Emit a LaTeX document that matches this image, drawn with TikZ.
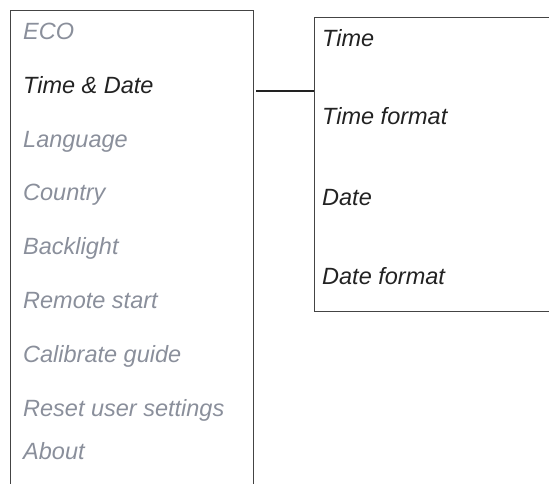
\documentclass[tikz,border=0pt]{standalone}
\usepackage{fontspec}
\setmainfont{Liberation Sans}
\definecolor{boxline}{HTML}{444444}
\definecolor{greytxt}{HTML}{8A8F9B}
\definecolor{darktxt}{HTML}{222222}
\tikzset{
  panel/.style={draw=boxline, line width=1.4pt, rectangle, inner sep=0pt, anchor=north west},
  item/.style={anchor=base west, inner sep=0pt, font=\fontsize{23.5}{27}\selectfont\itshape},
  dim/.style={item, text=greytxt},
  sel/.style={item, text=darktxt},
  link/.style={draw=darktxt, line width=1.1pt}
}
\begin{document}
\begin{tikzpicture}[x=1pt,y=-1pt]
\useasboundingbox (0,0) rectangle (549,483);
\clip (0,0) rectangle (549,483);
\node[panel, minimum width=243pt, minimum height=520pt] (menu) at (9.5,9.5) {};
\node[panel, minimum width=260pt, minimum height=294pt] (sub) at (314,17) {};
\node[dim] (eco) at (23,39) {ECO};
\node[sel] (timedate) at (23,93) {Time \& Date};
\node[dim] (lang) at (23,147) {Language};
\node[dim] (country) at (23,200) {Country};
\node[dim] (back) at (23,254) {Backlight};
\node[dim] (remote) at (23,308) {Remote start};
\node[dim] (calib) at (23,362) {Calibrate guide};
\node[dim] (reset) at (23,416) {Reset user settings};
\node[dim] (about) at (23,459) {About};
\node[sel] (time) at (322,46) {Time};
\node[sel] (tformat) at (322,124) {Time format};
\node[sel] (date) at (322,205) {Date};
\node[sel] (dformat) at (322,284) {Date format};
\coordinate (start) at (256,91);
\draw[link] (start) -- (start -| sub.west);
\end{tikzpicture}
\end{document}
